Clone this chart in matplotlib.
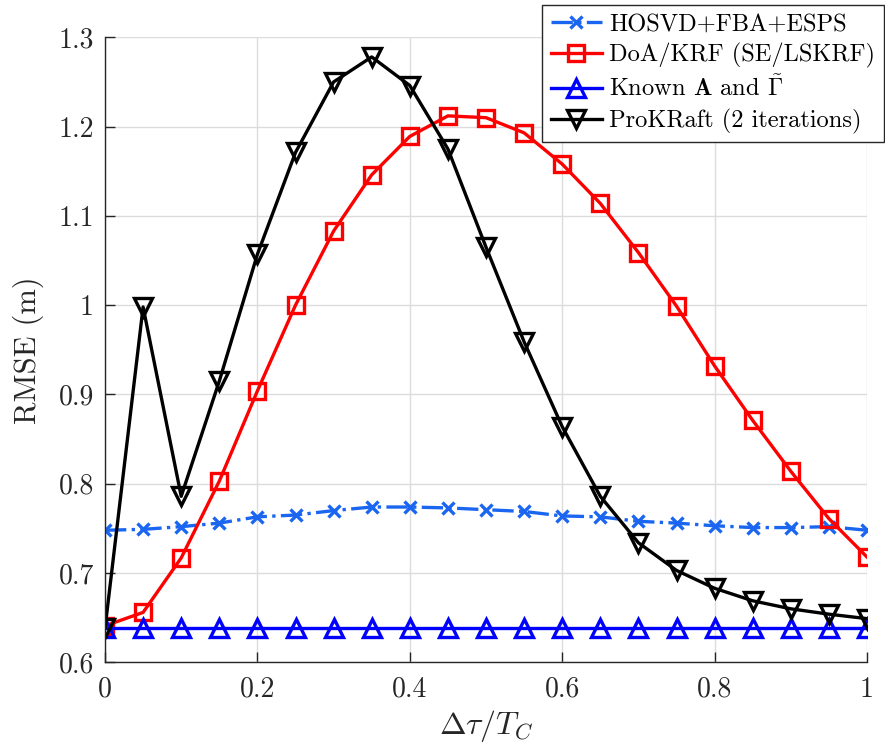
import numpy as np
import matplotlib
matplotlib.use("Agg")
import matplotlib.pyplot as plt

plt.rcParams['font.family'] = 'serif'
plt.rcParams['font.serif'] = ['cmr10']
plt.rcParams['mathtext.fontset'] = 'cm'
plt.rcParams['axes.formatter.use_mathtext'] = True

x = [0, 0.05, 0.1, 0.15, 0.2, 0.25, 0.3, 0.35, 0.4, 0.45, 0.5,
     0.55, 0.6, 0.65, 0.7, 0.75, 0.8, 0.85, 0.9, 0.95, 1.0]

hosvd = [0.748, 0.749, 0.752, 0.756, 0.763, 0.765, 0.770, 0.774, 0.774, 0.773, 0.771,
         0.769, 0.764, 0.763, 0.758, 0.756, 0.753, 0.751, 0.751, 0.752, 0.748]
doakrf = [0.641, 0.656, 0.717, 0.803, 0.904, 1.000, 1.083, 1.146, 1.189, 1.212, 1.210,
          1.193, 1.158, 1.114, 1.059, 0.999, 0.932, 0.871, 0.814, 0.761, 0.718]
known = [0.639] * 21
prokraft = [0.638, 0.998, 0.786, 0.915, 1.057, 1.171, 1.250, 1.278, 1.246, 1.175, 1.065,
            0.959, 0.864, 0.786, 0.734, 0.703, 0.683, 0.669, 0.660, 0.654, 0.649]

labels = ["HOSVD+FBA+ESPS", "DoA/KRF (SE/LSKRF)",
          r"Known $\mathbf{A}$ and $\tilde{\mathbf{\Gamma}}$", "ProKRaft (2 iterations)"]

fig = plt.figure(figsize=(8.85, 7.53), dpi=100)
ax = fig.add_axes([105/885, 1-662.4/753, (867-105)/885, (662.4-37.3)/753])

ax.plot(x, hosvd, color='#1a66f0', linestyle='-.', lw=2.4, marker='x', ms=8, mew=2.4, label=labels[0])
ax.plot(x, doakrf, color='#ff0000', linestyle='-', lw=2.4, marker='s', ms=12, mfc='none', mew=2.4, label=labels[1])
ax.plot(x, known, color='#0000ff', linestyle='-', lw=2.4, marker='^', ms=13, mfc='none', mew=2.4, label=labels[2])
ax.plot(x, prokraft, color='#000000', linestyle='-', lw=2.4, marker='v', ms=13, mfc='none', mew=2.4, label=labels[3])

ax.set_xlim(0, 1)
ax.set_ylim(0.6, 1.3)
ax.set_xticks([0, 0.2, 0.4, 0.6, 0.8, 1])
ax.set_xticklabels(['0', '0.2', '0.4', '0.6', '0.8', '1'])
ax.set_yticks([0.6, 0.7, 0.8, 0.9, 1.0, 1.1, 1.2, 1.3])
ax.set_yticklabels(['0.6', '0.7', '0.8', '0.9', '1', '1.1', '1.2', '1.3'])
ax.grid(True, color='#dcdcdc', lw=1.0)
ax.set_axisbelow(True)
for s in ['top', 'right']:
    ax.spines[s].set_visible(False)
for s in ['left', 'bottom']:
    ax.spines[s].set_color('#262626')
    ax.spines[s].set_linewidth(1.0)
ax.tick_params(direction='in', length=7, width=1.0, colors='#262626', labelsize=20, pad=8)
ax.tick_params(axis='x', pad=10)
for t in ax.get_xticklabels() + ax.get_yticklabels():
    t.set_color('#262626')

ax.set_xlabel(r'$\Delta\tau/T_C$', fontsize=23, color='#262626', labelpad=4)
ax.set_ylabel('RMSE (m)', fontsize=22, color='#262626', labelpad=10)

leg = fig.legend(loc='upper right', bbox_to_anchor=(884/885, 1-5/753), fontsize=17.6,
                 frameon=True, fancybox=False, edgecolor='#262626', framealpha=1,
                 borderaxespad=0, handlelength=2.1, handletextpad=0.3, labelspacing=0.3,
                 borderpad=0.35)
leg.get_frame().set_linewidth(1.0)

fig.savefig('out.png', dpi=100)
